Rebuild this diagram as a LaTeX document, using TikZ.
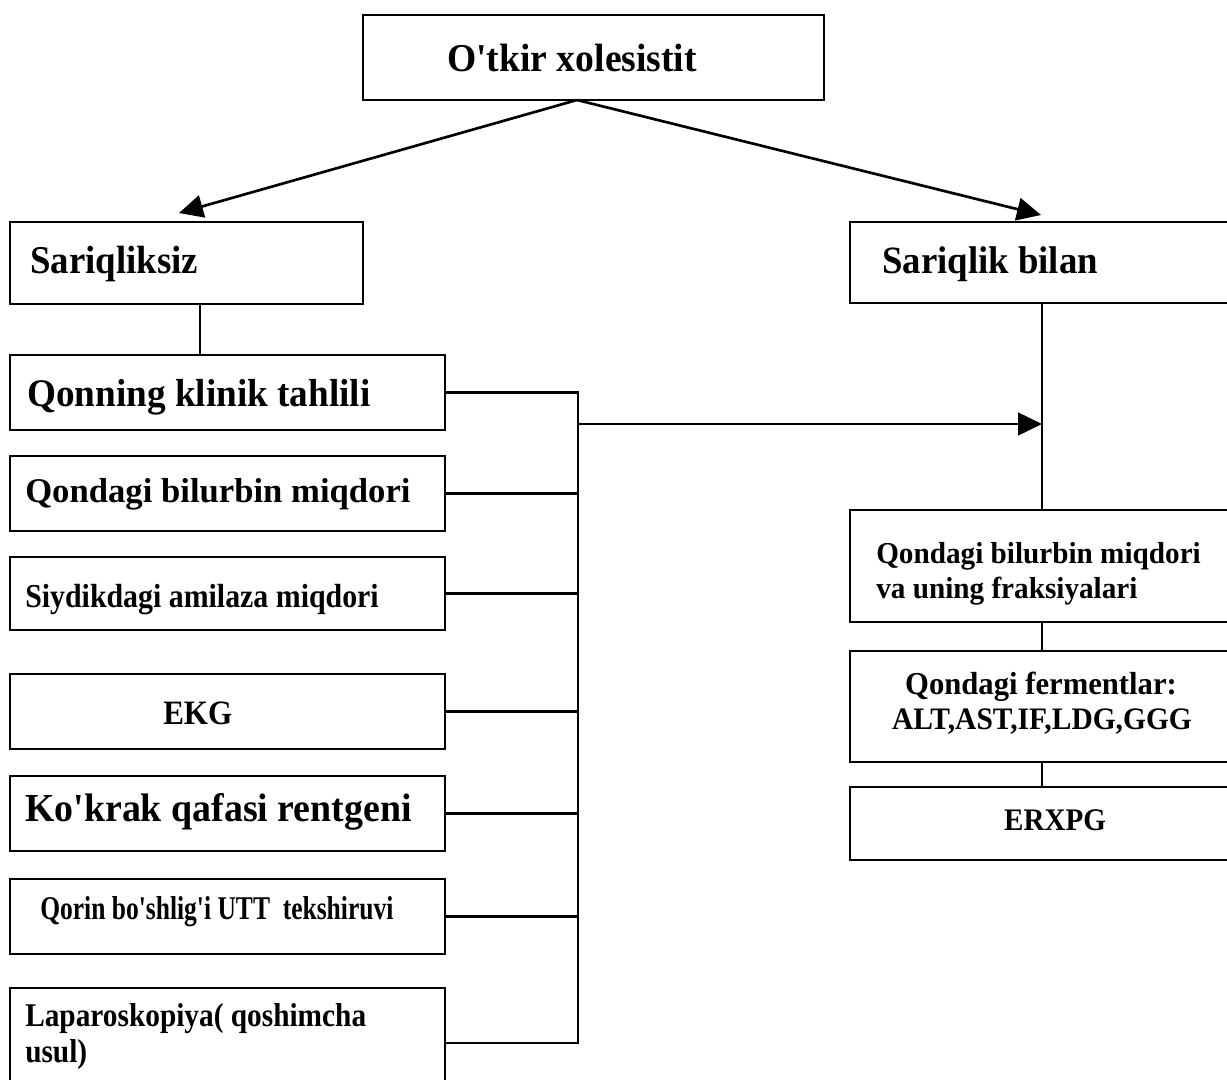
\documentclass[tikz,border=0pt]{standalone}
\usepackage{fontspec}
\setmainfont{Liberation Serif}
\usetikzlibrary{arrows.meta}
\newcommand\mkbox[5]{\node[boxst, minimum width={(#4-#2)*0.75pt}, minimum height={(#5-#3)*0.75pt}] (#1) at ({(#2+#4)/2},{(#3+#5)/2}) {};}
\newcommand\fsz[1]{\fontsize{#1}{#1}\selectfont}
\newcommand\ap{\textquotesingle}
\begin{document}
\begin{tikzpicture}[x=0.75pt,y=-0.75pt,
  boxst/.style={draw, line width=2.1pt, inner sep=0pt, rectangle},
  conn/.style={line width=2pt},
  arr/.style={conn, -{Triangle[length=18pt,width=17pt]}},
  lbl/.style={anchor=base west, inner sep=0pt, font=\bfseries},
  clbl/.style={anchor=base, inner sep=0pt, font=\bfseries},
]
\useasboundingbox (0,0) rectangle (1227,1079);
\fill[white] (0,0) rectangle (1227,1079);

% boxes
\mkbox{top}{363}{15}{824}{100}
\mkbox{nojaund}{10}{222}{363}{304}
\mkbox{jaund}{850}{222}{1240}{303}
\mkbox{qonning}{10}{355}{445}{430}
\mkbox{bilir}{10}{456}{445}{531}
\mkbox{amil}{10}{557}{445}{630}
\mkbox{ekg}{10}{674}{445}{749}
\mkbox{rent}{10}{776}{445}{851}
\mkbox{utt}{10}{879}{445}{954}
\mkbox{lap}{10}{988}{445}{1098}
\mkbox{rbone}{850}{510}{1240}{622}
\mkbox{rbtwo}{850}{651}{1240}{762}
\mkbox{rbthree}{850}{787}{1240}{860}

% coordinates
\coordinate (topfoot) at (577,100);
\coordinate (ltip) at (179,213);
\coordinate (rtip) at (1041,215);
\coordinate (lx) at (200,0);
\coordinate (rx) at (1042,0);
\coordinate (bt) at (578,393);
\coordinate (bb) at (578,1043);
\coordinate (harr) at (578,424);

% connectors
\draw[arr] (topfoot) -- (ltip);
\draw[arr] (topfoot) -- (rtip);
\draw[conn] (nojaund.south -| lx) -- (qonning.north -| lx);
\draw[conn] (qonning.east) -| (bb) -- (lap.east);
\draw[conn] (bilir.east) -- (bilir.east -| bt);
\draw[conn] (amil.east) -- (amil.east -| bt);
\draw[conn] (ekg.east) -- (ekg.east -| bt);
\draw[conn] (rent.east) -- (rent.east -| bt);
\draw[conn] (utt.east) -- (utt.east -| bt);
\draw[arr] (harr) -- (harr -| rx);
\draw[conn] (jaund.south -| rx) -- (rbone.north -| rx);
\draw[conn] (rbone.south -| rx) -- (rbtwo.north -| rx);
\draw[conn] (rbtwo.south -| rx) -- (rbthree.north -| rx);

% texts
\node[lbl, font=\bfseries\fsz{28.2}] (ttop) at (447,71) {\scalebox{1}[1.05]{O\ap tkir xolesistit}};
\node[lbl, font=\bfseries\fsz{27.6}] (tnoj) at (30,273) {\scalebox{1}[1.07]{Sariqliksiz}};
\node[lbl, font=\bfseries\fsz{27.6}] (tjau) at (882,273) {\scalebox{1}[1.05]{Sariqlik bilan}};
\node[lbl, font=\bfseries\fsz{27.9}] (tqon) at (27,406) {\scalebox{1}[1.05]{Qonning klinik tahlili}};
\node[lbl, font=\bfseries\fsz{26}] (tbil) at (25,502) {Qondagi bilurbin miqdori};
\node[lbl, font=\bfseries\fsz{22.4}] (tami) at (25,607) {\scalebox{1}[1.12]{Siydikdagi amilaza miqdori}};
\node[lbl, font=\bfseries\fsz{23.3}] (tekg) at (163,724) {\scalebox{1}[1.1]{EKG}};
\node[lbl, font=\bfseries\fsz{28.4}] (tren) at (25,821) {\scalebox{1}[1.05]{Ko\ap krak qafasi rentgeni}};
\node[lbl, font=\bfseries\fsz{22}] (tutt) at (40,919) {\scalebox{0.87}[1.13]{Qorin bo\ap shlig\ap i UTT\ \ tekshiruvi}};
\node[lbl, font=\bfseries\fsz{22}] (tlapa) at (25,1026) {\scalebox{1}[1.13]{Laparoskopiya( qoshimcha}};
\node[lbl, font=\bfseries\fsz{22}] (tlapb) at (25,1062) {\scalebox{1}[1.13]{usul)}};
\node[lbl, font=\bfseries\fsz{21.9}] (trba) at (876,563) {\scalebox{1}[1.04]{Qondagi bilurbin miqdori}};
\node[lbl, font=\bfseries\fsz{21.9}] (trbb) at (876,598) {\scalebox{1}[1.04]{va uning fraksiyalari}};
\node[clbl, font=\bfseries\fsz{23}] (trbc) at (1041,694) {\scalebox{1}[1.04]{Qondagi fermentlar:}};
\node[clbl, font=\bfseries\fsz{22.1}] (trbd) at (1042,729) {\scalebox{1}[1.06]{ALT,AST,IF,LDG,GGG}};
\node[clbl, font=\bfseries\fsz{21.8}] (trbe) at (1055,830) {\scalebox{1}[1.08]{ERXPG}};
\end{tikzpicture}
\end{document}
